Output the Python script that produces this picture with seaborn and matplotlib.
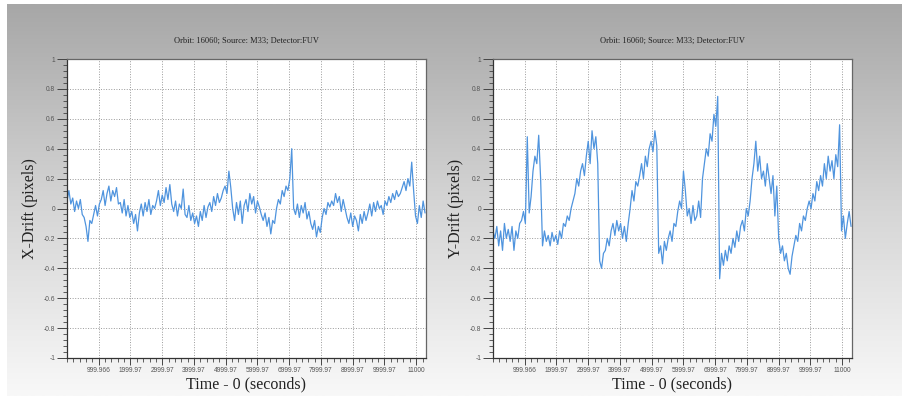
import numpy as np
import pandas as pd
import matplotlib
matplotlib.use('Agg')
import matplotlib.pyplot as plt
from matplotlib.ticker import FixedLocator, MultipleLocator, FuncFormatter
import seaborn as sns

# ── Data (one sample every 60 s) ─────────────────────────────────────────────
STEP = 60
x_drift = [
    0.05, 0.12, 0.03,
    0.07, -0.02, 0.05, 0.0, 0.06, -0.04,
    -0.06, -0.12, -0.22, -0.08, -0.1,
    -0.04, 0.02, -0.05, 0.03,
    0.06, 0.12, 0.02, 0.1, 0.15, 0.05, 0.12, 0.08, 0.14, 0.03,
    0.04, -0.03, 0.06, -0.05, 0.02,
    -0.06, -0.02, -0.1, -0.04, -0.15, -0.03,
    0.03, -0.05, 0.04, -0.02, 0.06, -0.04, 0.02, 0.0,
    0.05, 0.12, 0.02, 0.09, 0.04, 0.14, 0.06, 0.16, 0.03,
    -0.02, 0.05, -0.05, 0.03, 0.0, 0.13, -0.04,
    -0.06, 0.02, -0.08, -0.03, -0.1, -0.05, -0.12, -0.02, -0.08, 0.02, -0.06, 0.01,
    0.04, -0.02, 0.08, 0.02, 0.1, 0.04, 0.07, 0.12,
    0.15, 0.1, 0.25, 0.14,
    0.0, -0.08, 0.04, -0.04, 0.05, -0.1, 0.02,
    0.06, -0.02, 0.1, 0.03, 0.08, -0.03, 0.05, 0.01, -0.04,
    -0.08, -0.03, -0.12, -0.06, -0.17, -0.08, -0.1,
    0.0, 0.06, 0.03, 0.12, 0.08, 0.15, 0.12, 0.2, 0.4,
    0.0,
    -0.04, 0.03, -0.06, 0.02, -0.03, 0.04, -0.07, -0.02,
    -0.1, -0.14, -0.08, -0.19, -0.12, -0.16,
    -0.06, 0.0, -0.04, 0.04, 0.01, 0.05,
    0.02, 0.1, 0.04, 0.08, -0.02, 0.06, 0.0,
    -0.06, -0.1, -0.03, -0.12, -0.05, -0.08, -0.15, -0.04, -0.1, -0.02, -0.08,
    -0.03, 0.03, -0.05, 0.04, -0.02, 0.05, 0.0, 0.02, -0.04,
    0.05, 0.02, 0.08, 0.04, 0.1, 0.06, 0.12, 0.08, 0.1,
    0.14, 0.18, 0.12, 0.2, 0.15, 0.31, 0.12,
    -0.05, -0.1, 0.02, -0.06, 0.05, -0.03,
]
y_drift = [
    -0.15, -0.2, -0.12, -0.25, -0.15, -0.28, -0.1, -0.2, -0.14,
    -0.22, -0.12, -0.28, -0.15, -0.2, -0.1,
    -0.08, -0.02, -0.1,
    0.48,
    -0.03, 0.08,
    0.25, 0.35, 0.3, 0.49,
    0.2,
    -0.25, -0.15, -0.22, -0.18, -0.25, -0.16, -0.22, -0.18, -0.24,
    -0.15, -0.2, -0.1, -0.12, -0.05, -0.08, 0.0,
    0.05, 0.1, 0.2, 0.15, 0.25, 0.3, 0.22,
    0.35, 0.45, 0.3, 0.52, 0.4, 0.48,
    0.3,
    -0.35, -0.4, -0.3, -0.28, -0.2, -0.25,
    -0.15, -0.1, -0.18, -0.08, -0.15, -0.1, -0.2, -0.12, -0.22, -0.1,
    0.0, 0.12, 0.05, 0.18,
    0.15, 0.22, 0.3, 0.2, 0.35, 0.28, 0.4,
    0.45, 0.38, 0.52, 0.42,
    -0.3, -0.25, -0.37, -0.22,
    -0.28, -0.2, -0.15, -0.22, -0.1, -0.12, -0.02,
    0.05, 0.0, 0.25, 0.12,
    -0.05, 0.0, -0.1, 0.02, -0.08, -0.05, 0.05, -0.06,
    0.2, 0.3, 0.4, 0.35, 0.5, 0.45, 0.63, 0.55,
    0.75,
    -0.47, -0.3, -0.38, -0.28, -0.35,
    -0.25, -0.3, -0.2, -0.26, -0.15, -0.22,
    -0.12, -0.08, -0.15, 0.0, -0.05,
    0.05, 0.2, 0.3, 0.45, 0.25, 0.35,
    0.2, 0.25, 0.15, 0.3, 0.2, 0.1, 0.22, -0.05, 0.15,
    -0.2, -0.3, -0.25, -0.35, -0.3, -0.4, -0.44, -0.32,
    -0.25, -0.18, -0.22, -0.1, -0.15, -0.05, -0.08, 0.0, 0.05,
    0.0, 0.1, 0.05, 0.18, 0.12, 0.22, 0.15, 0.3, 0.2, 0.35, 0.25, 0.32, 0.2, 0.36, 0.28,
    0.56,
    -0.15, -0.05, -0.2, -0.1, -0.02, -0.12,
]
time_s = np.arange(len(x_drift)) * STEP

x_tick_pos = [999.966, 1999.97, 2999.97, 3999.97, 4999.97, 5999.97,
              6999.97, 7999.97, 8999.97, 9999.97, 10999.97]
x_tick_lab = ['999.966', '1999.97', '2999.97', '3999.97', '4999.97', '5999.97',
              '6999.97', '7999.97', '8999.97', '9999.97', '11000']
TITLE = 'Orbit: 16060; Source: M33; Detector:FUV'

df = pd.DataFrame({'time': time_s, 'X-Drift': x_drift, 'Y-Drift': y_drift})

# ── Style ────────────────────────────────────────────────────────────────────
sns.set_style('white')
plt.rcParams['axes.unicode_minus'] = False
LINE_COL = '#4f94de'
SERIF = ['Liberation Serif', 'DejaVu Serif']
SANS = ['Liberation Sans', 'DejaVu Sans']

W, H = 903, 396
fig = plt.figure(figsize=(W / 100, H / 100), dpi=100)
fig.patch.set_facecolor('white')

# gray gradient backdrop
bg = fig.add_axes([7 / W, 0, 1 - 7 / W, 1 - 4 / H], zorder=-10)
grad = np.linspace(0, 1, 256)[:, None]
bg.imshow(grad, aspect='auto', cmap=matplotlib.colors.LinearSegmentedColormap.from_list(
    'bg', ['#a7a7a7', '#d4d4d4', '#f8f8f8']), extent=[0, 1, 0, 1])
bg.set_axis_off()


def panel(left_px, right_px, col, ylab):
    ax = fig.add_axes([left_px / W, 1 - 358 / H, (right_px - left_px) / W, 299 / H])
    ax.set_facecolor('white')
    sns.lineplot(data=df, x='time', y=col, ax=ax, color=LINE_COL,
                 linewidth=0.9, estimator=None, sort=False)
    ax.set_xlim(0, 11310)
    ax.set_ylim(-1, 1)

    ax.yaxis.set_major_locator(FixedLocator(np.round(np.arange(-1, 1.01, 0.2), 1)))
    ax.yaxis.set_minor_locator(MultipleLocator(0.04))
    ax.yaxis.set_major_formatter(FuncFormatter(
        lambda v, _: '0' if abs(v) < 1e-9 else f'{v:g}'))
    ax.xaxis.set_major_locator(FixedLocator(x_tick_pos))
    ax.set_xticklabels(x_tick_lab)
    ax.xaxis.set_minor_locator(MultipleLocator(200))

    ax.tick_params(axis='both', which='major', direction='out', length=7,
                   width=0.7, color='#444', labelsize=4.8, labelcolor='#555', pad=1.5)
    ax.tick_params(axis='both', which='minor', direction='out', length=3,
                   width=0.6, color='#444')
    ax.tick_params(axis='x', which='major', length=5)
    ax.tick_params(left=True, bottom=True, which='both')
    for t in ax.get_xticklabels() + ax.get_yticklabels():
        t.set_family(SANS)

    ax.grid(True, which='major', color='#9a9a9a', linestyle=':', linewidth=0.7)
    for side in ['left', 'bottom']:
        ax.spines[side].set_color('#333')
        ax.spines[side].set_linewidth(0.9)
    for side in ['top', 'right']:
        ax.spines[side].set_color('#666')
        ax.spines[side].set_linewidth(0.9)

    ax.set_title(TITLE, fontsize=6, family=SERIF, color='#222', pad=12)
    ax.set_xlabel('Time - 0 (seconds)', fontsize=11.5, family=SERIF, color='#222', labelpad=2)
    ax.set_ylabel(ylab, fontsize=11.5, family=SERIF, color='#222', labelpad=4)
    return ax


panel(67, 426, 'X-Drift', 'X-Drift (pixels)')
panel(493, 852, 'Y-Drift', 'Y-Drift (pixels)')

fig.savefig('out.png', dpi=100)
